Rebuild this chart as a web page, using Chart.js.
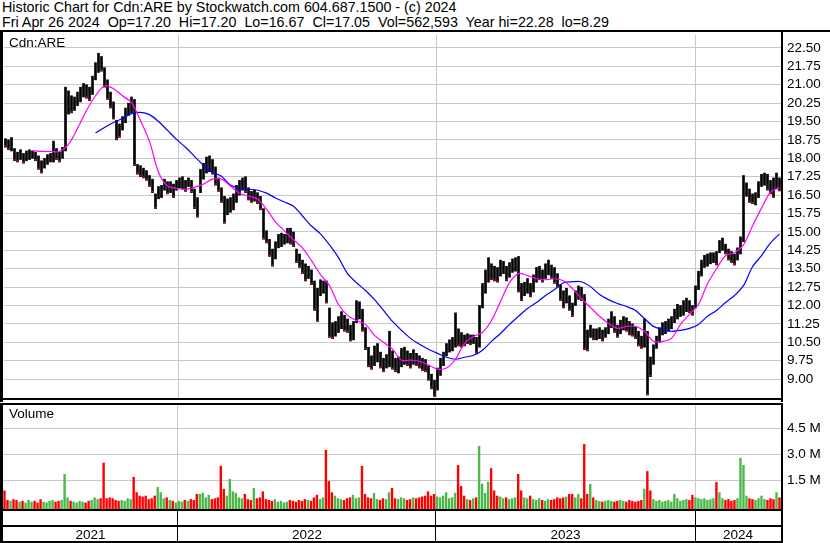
<!DOCTYPE html>
<html>
<head>
<meta charset="utf-8">
<script src="https://cdn.jsdelivr.net/npm/chart.js@4.4.1/dist/chart.umd.min.js"></script>
<style>
  body { margin: 0; background: #fff; }
  #wrap { position: relative; width: 830px; height: 543px; overflow: hidden;
          font-family: 'Liberation Sans', Arial, sans-serif; color: #000; }
  .lbl { position: absolute; white-space: pre; font-size: 14.3px; line-height: 15px; }
  canvas { position: absolute; left: 0; }
</style>
</head>
<body>
<div id="wrap">
  <div class="lbl" style="left:2px;top:0px">Historic Chart for Cdn:ARE by Stockwatch.com 604.687.1500 - (c) 2024
Fri Apr 26 2024  Op=17.20  Hi=17.20  Lo=16.67  Cl=17.05  Vol=562,593  Year hi=22.28  lo=8.29</div>
  <canvas id="price" width="830" height="372" style="top:30px"></canvas>
  <canvas id="volume" width="830" height="140" style="top:403px"></canvas>
  <div class="lbl" style="left:9px;top:35px;font-size:13.5px">Cdn:ARE</div>
  <div class="lbl" style="left:9px;top:406px;font-size:13.5px">Volume</div>
</div>
<script>
// one entry per ~3 trading days, Apr 2021 -> Apr 26 2024
const priceLow = [
  18.45,18.35,18.30,17.90,17.85,17.95,17.80,17.90,17.95,18.00,
  17.90,17.55,17.40,17.60,17.75,17.85,17.85,17.95,17.85,18.00,
  18.30,19.80,19.85,19.95,20.15,20.30,20.50,20.45,20.35,20.60,
  21.20,21.50,21.55,20.90,20.40,20.05,19.60,18.75,18.85,19.15,
  19.45,19.75,19.85,17.70,17.35,17.25,17.20,17.10,16.85,16.60,
  15.95,16.35,16.40,16.70,16.55,16.60,16.40,16.70,16.80,16.75,
  16.65,16.85,16.60,15.95,15.60,16.60,17.15,17.40,17.45,17.35,
  16.90,16.65,16.20,15.35,15.70,15.80,15.90,16.20,16.50,16.70,
  16.60,16.30,16.20,16.25,16.15,15.90,14.70,14.55,14.00,13.60,
  13.90,14.35,14.40,14.50,14.55,14.50,14.40,13.75,13.55,13.30,
  13.00,13.10,12.85,11.80,11.35,12.40,12.50,12.10,10.70,10.65,
  10.75,10.90,11.05,10.95,10.90,10.55,10.60,11.30,11.45,10.95,
  10.20,9.50,9.40,9.55,9.70,9.45,9.30,9.45,9.50,9.40,
  9.30,9.25,9.50,9.60,9.55,9.45,9.60,9.55,9.45,9.35,
  9.30,8.95,8.60,8.29,8.55,9.15,9.55,9.95,10.10,10.15,
  10.30,10.35,10.30,10.35,10.45,10.40,10.45,10.05,10.30,11.90,
  12.50,12.95,13.05,13.00,12.95,13.20,13.30,13.00,13.15,13.35,
  13.40,12.55,12.20,12.40,12.50,12.35,12.55,12.95,13.05,12.95,
  13.10,13.25,13.10,12.90,12.75,12.20,11.90,12.10,11.80,11.55,
  12.00,12.25,12.20,10.20,10.15,10.70,10.60,10.60,10.65,10.55,
  10.70,10.85,11.10,10.90,10.70,10.85,11.00,10.95,10.80,10.75,
  10.65,10.35,10.25,10.30,8.35,9.10,9.60,10.25,10.50,10.80,
  10.85,10.95,11.05,11.30,11.45,11.55,11.60,11.75,11.70,11.60,
  11.90,12.65,13.20,13.55,13.60,13.70,13.75,13.65,14.15,14.25,
  14.10,13.85,13.75,13.65,13.85,14.10,14.60,16.45,16.20,16.15,
  16.10,16.40,16.85,16.90,16.70,16.55,16.40,16.75,16.67
];
const priceHigh = [
  18.80,18.75,18.85,18.40,18.25,18.35,18.20,18.30,18.35,18.30,
  18.25,18.10,17.90,18.00,18.15,18.20,18.70,18.40,18.25,18.45,
  20.90,20.75,20.55,20.50,20.70,20.90,21.05,21.00,20.90,21.35,
  21.90,22.28,22.15,21.70,21.20,20.70,20.30,19.55,19.40,19.70,
  20.05,20.25,20.50,20.40,17.75,17.70,17.60,17.50,17.30,17.15,
  16.55,16.85,16.90,17.15,17.05,17.05,16.95,17.10,17.20,17.25,
  17.10,17.20,17.10,16.75,16.40,17.55,17.80,18.05,18.10,17.95,
  17.65,17.20,16.80,16.45,16.35,16.40,16.55,16.90,17.10,17.20,
  17.25,16.80,16.65,16.70,16.60,16.45,15.95,15.05,14.70,14.30,
  14.60,14.90,14.95,14.90,15.15,15.15,15.00,14.30,14.10,13.85,
  13.70,13.60,13.45,13.00,12.70,13.05,13.00,13.00,11.90,11.30,
  11.35,11.55,11.75,11.60,11.45,11.20,11.35,12.20,12.15,11.85,
  11.10,10.30,9.95,10.35,10.45,10.10,9.85,10.00,10.95,10.15,
  9.85,9.90,10.25,10.30,10.15,10.05,10.20,10.05,9.95,9.85,
  9.80,9.55,9.20,8.95,9.45,9.85,10.10,10.45,10.60,10.70,
  11.70,11.05,10.90,10.80,10.85,10.80,10.80,10.70,12.00,12.90,
  13.45,13.95,13.70,13.60,13.55,13.85,13.80,13.60,13.75,13.90,
  13.95,14.00,12.90,12.95,13.10,12.90,13.25,13.55,13.60,13.45,
  13.70,13.85,13.65,13.55,13.30,12.85,12.60,12.70,12.40,12.10,
  12.60,12.80,12.75,12.45,11.00,11.20,11.05,11.05,11.10,11.00,
  11.10,11.45,11.75,11.55,11.20,11.40,11.55,11.50,11.35,11.25,
  11.15,10.95,10.75,11.45,10.95,9.90,10.40,10.75,11.10,11.30,
  11.35,11.45,11.55,11.85,12.05,12.00,12.20,12.30,12.20,12.00,
  12.80,13.40,13.85,14.05,14.10,14.15,14.15,14.20,14.65,14.75,
  14.50,14.30,14.20,14.10,14.35,14.80,17.30,17.00,16.75,16.55,
  16.60,17.05,17.35,17.40,17.35,17.10,17.20,17.40,17.20
];
// volume in millions of shares
const volume = [
  0.90,0.35,0.30,0.40,0.35,0.25,0.30,0.20,0.35,0.25,
  0.30,0.20,0.40,0.25,0.20,0.30,0.35,0.25,0.30,0.35,
  1.86,0.50,0.30,0.25,0.20,0.30,0.25,0.20,0.30,0.35,
  0.50,0.40,0.45,2.52,0.45,0.50,0.45,0.35,0.30,0.35,
  0.30,0.45,0.40,1.69,0.80,0.60,0.55,0.60,0.40,0.45,
  0.60,1.10,0.80,0.45,0.50,0.35,0.30,0.20,0.30,0.25,
  0.35,0.30,0.40,0.35,0.70,0.70,0.77,0.50,0.65,0.40,
  0.45,0.50,2.33,1.00,0.60,1.57,0.85,0.77,0.50,0.45,
  0.70,0.40,0.35,1.05,0.45,0.50,0.85,0.40,0.35,0.30,
  0.40,0.25,0.30,0.20,0.25,0.35,0.30,0.25,0.35,0.30,
  0.40,0.35,0.30,0.50,0.65,0.40,0.50,3.26,1.45,0.80,
  0.60,0.45,0.40,0.35,0.45,0.50,0.65,0.45,0.50,2.33,
  0.70,0.50,0.45,0.76,0.40,0.35,0.45,0.40,0.80,1.05,
  0.45,0.40,0.50,0.45,0.35,0.40,0.50,0.45,0.50,0.55,
  0.60,0.85,0.60,0.70,0.55,0.50,0.60,0.80,0.45,0.50,
  0.77,2.38,1.16,0.60,0.40,0.35,0.45,0.50,3.49,1.30,
  0.75,1.40,2.20,0.90,0.60,0.55,0.45,0.50,0.40,0.45,
  0.50,1.86,0.90,0.50,0.45,0.60,0.40,0.35,0.45,0.35,
  0.30,0.40,0.35,0.40,0.50,0.45,0.50,0.55,0.70,0.70,
  0.50,0.70,0.45,3.60,0.70,1.28,0.50,0.35,0.30,0.25,
  0.30,0.35,0.30,0.25,0.30,0.35,0.30,0.25,0.35,0.30,
  0.25,0.30,0.35,1.00,2.03,0.90,0.40,0.30,0.35,0.25,
  0.30,0.35,0.25,0.70,0.45,0.30,0.35,0.40,0.35,0.65,
  0.50,0.45,0.40,0.45,0.35,0.40,0.45,1.39,0.80,0.45,
  0.35,0.40,0.30,0.35,0.45,2.80,2.38,0.60,0.45,0.40,
  0.35,0.45,0.60,0.40,0.35,0.45,0.40,0.80,0.50
];
// moving averages, one reading every maStep entries (null = not yet started)
const maStep = 3;
const fastMA = [
  null,null,null,18.32,18.28,18.28,18.28,18.57,19.22,19.95,
  20.55,20.96,20.84,20.55,20.27,19.54,18.69,17.43,16.87,16.78,
  16.74,16.82,16.95,17.15,17.15,16.87,16.58,16.46,16.34,15.93,
  15.41,15.04,14.68,14.35,13.83,13.26,12.81,12.04,11.60,11.39,
  11.23,10.78,10.50,10.22,9.77,9.77,9.73,9.57,9.41,9.45,
  9.81,10.46,10.74,10.91,11.39,12.16,12.93,13.30,13.22,13.09,
  13.05,13.09,13.01,12.69,12.28,11.92,11.56,11.27,11.07,11.15,
  11.15,10.95,10.54,10.54,10.66,11.23,11.64,12.04,12.89,13.50,
  14.03,14.15,14.47,15.24,15.97,16.62,16.82
];
const slowMA = [
  null,null,null,null,null,null,null,null,null,null,
  19.03,19.26,19.46,19.62,19.82,19.87,19.78,19.50,19.14,18.77,
  18.45,18.08,17.72,17.43,17.27,16.91,16.78,16.74,16.70,16.58,
  16.38,16.22,16.05,15.65,15.24,14.92,14.47,13.95,13.30,12.93,
  12.61,12.24,11.80,11.35,10.99,10.66,10.42,10.22,10.05,9.89,
  9.81,9.89,9.97,10.18,10.54,10.86,11.23,11.56,11.88,12.12,
  12.41,12.65,12.93,12.97,12.97,12.77,12.45,12.24,12.08,11.96,
  11.80,11.47,11.15,11.03,10.95,10.99,11.07,11.23,11.56,11.80,
  12.12,12.41,12.81,13.58,14.03,14.55,14.92
];
const priceTicks = [9.00,9.75,10.50,11.25,12.00,12.75,13.50,14.25,15.00,15.75,
                    16.50,17.25,18.00,18.75,19.50,20.25,21.00,21.75,22.50];
const volumeTicks = [1.5, 3.0, 4.5];
const years = ['2021', '2022', '2023', '2024'];
const yearStarts = [57.75, 143.6, 229.9];   // entry index where 2022, 2023, 2024 begin

const N = priceLow.length;
const gridColor = '#c8c8c8';
const font = { family: "'Liberation Sans', Arial, sans-serif", size: 13.5 };
const xMin = -0.5, xMax = N - 0.5;

// volume colour follows the direction of the price bar
const mid = priceLow.map((lo, i) => (lo + priceHigh[i]) / 2);
const isUp = mid.map((m, i) => i > 0 && m >= mid[i - 1]);
const volColors = isUp.map(up => up ? '#4cb84c' : '#ff0000');
// small red close marks on the down bars
const downMarks = priceLow.map((lo, i) => isUp[i] ? null : { x: i, y: lo + 0.04 }).filter(p => p);

const maPoints = arr => arr.map((v, k) => v == null ? null : { x: k * maStep, y: v }).filter(p => p);

// year label sits in the middle of its span
const bounds = [xMin, ...yearStarts, xMax];
const yearMids = years.map((y, i) => (bounds[i] + bounds[i + 1]) / 2);

// keep the axes from reserving room for half-labels
const noPad = s => { s.paddingTop = 0; s.paddingBottom = 0; s.paddingLeft = 0; s.paddingRight = 0; };

function frame(extra) {
    return {
        id: 'frame',
        afterDraw(chart) {
            const { ctx, chartArea: ca, width, height } = chart;
            ctx.save();
            ctx.fillStyle = '#000';
            ctx.fillRect(0, 0, 3, height);
            ctx.fillRect(ca.right, 0, 2, height);
            ctx.fillRect(0, ca.bottom, ca.right + 2, 2);
            extra(ctx, ca, width, height);
            ctx.restore();
        }
    };
}

new Chart(document.getElementById('price'), {
    data: {
        datasets: [{
            type: 'scatter',
            data: downMarks,
            pointStyle: 'rect',
            pointRadius: 1,
            backgroundColor: '#ff0000',
            borderWidth: 0,
            order: 0
        }, {
            type: 'line',
            data: maPoints(fastMA),
            borderColor: '#ff00ff',
            borderWidth: 1.2,
            pointRadius: 0,
            tension: 0.3,
            order: 1
        }, {
            type: 'line',
            data: maPoints(slowMA),
            borderColor: '#0000ff',
            borderWidth: 1.2,
            pointRadius: 0,
            tension: 0.3,
            order: 2
        }, {
            type: 'bar',
            data: priceLow.map((lo, i) => ({ x: i, y: [lo, priceHigh[i]] })),
            backgroundColor: '#000',
            barThickness: 2,
            order: 3
        }]
    },
    options: {
        responsive: false,
        animation: false,
        layout: { padding: { left: 3, top: 5, bottom: 2, right: 0 } },
        plugins: { legend: { display: false }, tooltip: { enabled: false } },
        scales: {
            x: {
                type: 'linear', min: xMin, max: xMax, offset: false,
                afterBuildTicks: s => { s.ticks = yearStarts.map(v => ({ value: v })); },
                ticks: { display: false },
                grid: { color: gridColor, drawTicks: false, offset: false },
                border: { display: false },
                afterFit: s => { s.height = 0; noPad(s); }
            },
            y: {
                position: 'right', min: 8.23, max: 23.027,
                afterBuildTicks: s => { s.ticks = priceTicks.map(v => ({ value: v })); },
                ticks: { color: '#000', font, padding: 6, callback: v => v.toFixed(2) },
                grid: { color: gridColor, drawTicks: false },
                border: { display: false },
                afterFit: s => { s.width = 49; noPad(s); }
            }
        }
    },
    plugins: [frame((ctx, ca, w) => { ctx.fillRect(0, 0, w, 2); })]
});

new Chart(document.getElementById('volume'), {
    type: 'bar',
    data: {
        datasets: [{
            data: volume.map((v, i) => ({ x: i, y: v })),
            backgroundColor: volColors,
            base: -0.174,
            barPercentage: 1,
            categoryPercentage: 0.8
        }]
    },
    options: {
        responsive: false,
        animation: false,
        layout: { padding: { left: 3, top: 2, bottom: 0, right: 0 } },
        plugins: { legend: { display: false }, tooltip: { enabled: false } },
        scales: {
            x: {
                type: 'linear', min: xMin, max: xMax, offset: false,
                afterBuildTicks: s => {
                    s.ticks = [...yearStarts, ...yearMids].sort((a, b) => a - b).map(v => ({ value: v }));
                },
                ticks: {
                    color: '#000', font, autoSkip: false, maxRotation: 0, padding: -16,
                    callback: v => { const k = yearMids.indexOf(v); return k >= 0 ? years[k] : ''; }
                },
                grid: {
                    offset: false,
                    color: c => yearStarts.includes(c.tick && c.tick.value) ? gridColor : 'rgba(0,0,0,0)',
                    tickColor: c => yearStarts.includes(c.tick && c.tick.value) ? '#000' : 'rgba(0,0,0,0)',
                    tickLength: 34
                },
                border: { display: false },
                afterFit: s => { s.height = 34; noPad(s); }
            },
            y: {
                position: 'right', min: -0.174, max: 5.872,
                afterBuildTicks: s => { s.ticks = volumeTicks.map(v => ({ value: v })); },
                ticks: { color: '#000', font, padding: 6, callback: v => v.toFixed(1) + ' M' },
                grid: { color: gridColor, drawTicks: false },
                border: { display: false },
                afterFit: s => { s.width = 49; noPad(s); }
            }
        }
    },
    plugins: [frame((ctx, ca, w, h) => {
        ctx.fillRect(0, 0, ca.right + 2, 2);
        ctx.fillRect(0, ca.bottom + 16, ca.right + 2, 2);
        ctx.fillRect(0, h - 2, ca.right + 2, 2);
    })]
});
</script>
</body>
</html>
